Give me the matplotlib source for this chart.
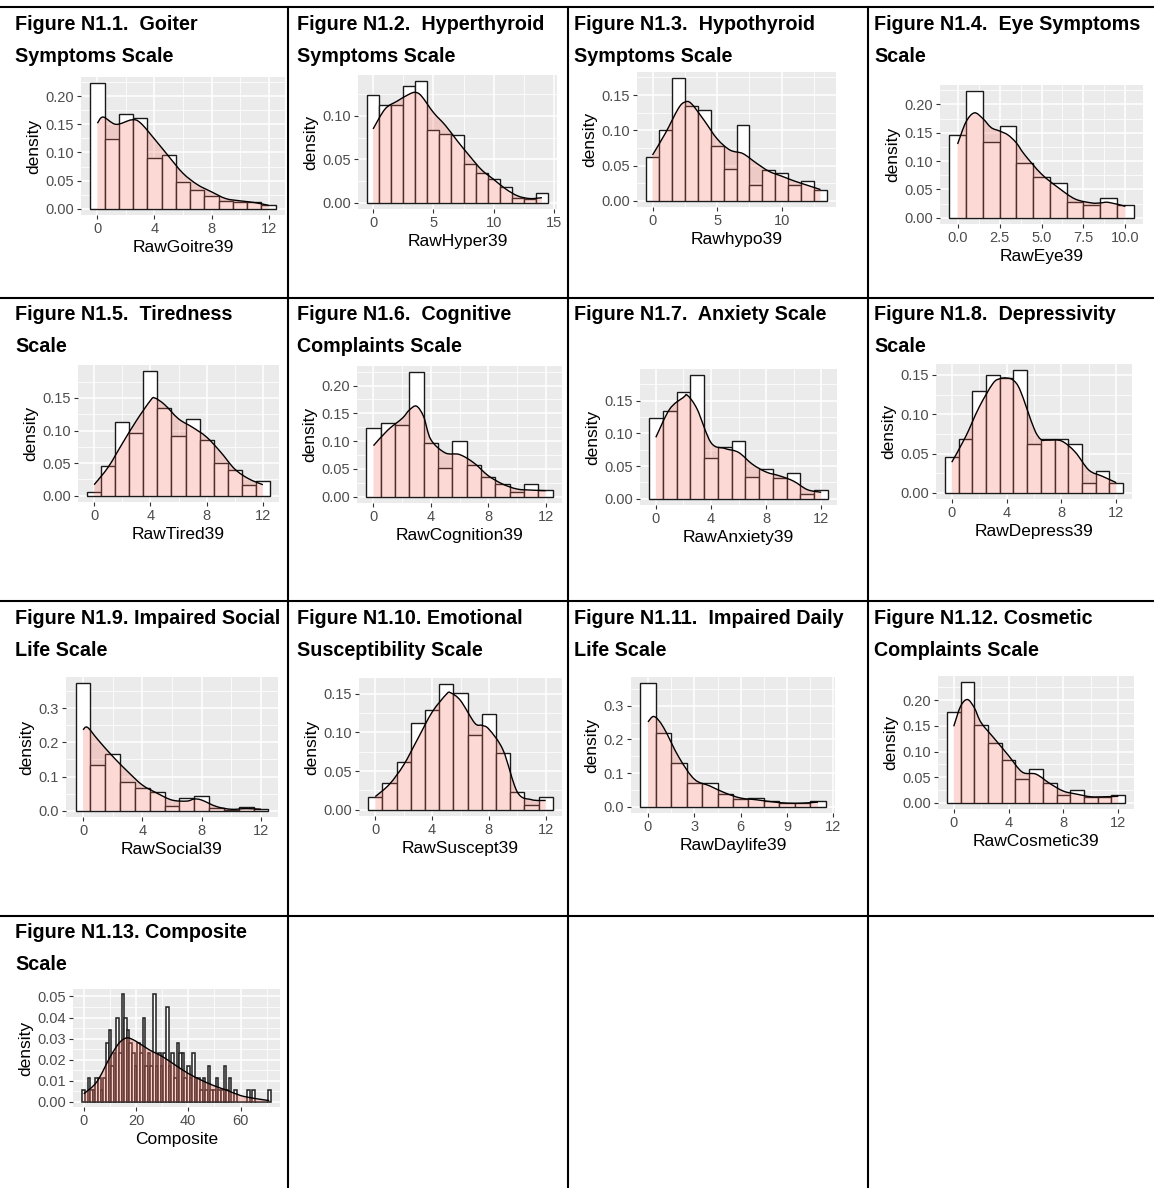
import numpy as np
import matplotlib
matplotlib.use("Agg")
import matplotlib.pyplot as plt
from matplotlib.path import Path
from matplotlib.patches import PathPatch
from matplotlib.lines import Line2D
from matplotlib import font_manager

W, H = 1154, 1188  # output size in pixels

# ---------------- values ----------------
# bar heights (density) for bins centred on 0, 1, 2, ...
goiter_bars = [0.223, 0.124, 0.168, 0.162, 0.091, 0.095, 0.047, 0.034, 0.022, 0.013, 0.012, 0.012, 0.006]
goiter_dx = [0, 0.4, 1.3, 2.4, 3, 4, 5, 6, 7, 8, 9, 10, 11, 12]
goiter_dy = [0.152, 0.163, 0.150, 0.158, 0.153, 0.124, 0.093, 0.063, 0.043, 0.030, 0.018, 0.014, 0.011, 0.006]

hyper_bars = [0.124, 0.112, 0.112, 0.134, 0.140, 0.084, 0.079, 0.078, 0.045, 0.034, 0.028, 0.018, 0.006, 0.005, 0.011]
hyper_dx = [0, 1, 2, 3, 3.5, 4, 5, 6, 7, 8, 9, 10, 11, 12, 13, 14]
hyper_dy = [0.085, 0.108, 0.117, 0.125, 0.127, 0.123, 0.104, 0.089, 0.071, 0.054, 0.038, 0.027, 0.016, 0.008, 0.005, 0.006]

hypo_bars = [0.062, 0.100, 0.174, 0.134, 0.129, 0.078, 0.045, 0.107, 0.023, 0.044, 0.040, 0.022, 0.028, 0.016]
hypo_dx = [0, 1, 2, 2.5, 3, 4, 5, 6, 7, 8, 9, 10, 11, 12, 13]
hypo_dy = [0.065, 0.096, 0.131, 0.140, 0.138, 0.114, 0.088, 0.072, 0.067, 0.054, 0.042, 0.035, 0.028, 0.022, 0.016]

eye_bars = [0.146, 0.223, 0.134, 0.162, 0.096, 0.072, 0.062, 0.027, 0.023, 0.034, 0.023]
eye_dx = [0, 0.5, 1, 1.5, 2, 2.5, 3, 3.5, 4, 5, 6, 7, 8, 8.5, 9, 10]
eye_dy = [0.130, 0.169, 0.185, 0.175, 0.159, 0.153, 0.146, 0.132, 0.111, 0.077, 0.053, 0.033, 0.026, 0.026, 0.027, 0.020]

tired_bars = [0.006, 0.045, 0.113, 0.096, 0.191, 0.135, 0.091, 0.118, 0.085, 0.050, 0.039, 0.017, 0.022]
tired_dx = [0, 1, 2, 3, 4, 4.3, 5, 6, 7, 8, 9, 10, 11, 12]
tired_dy = [0.017, 0.044, 0.080, 0.115, 0.146, 0.150, 0.140, 0.118, 0.105, 0.090, 0.067, 0.041, 0.026, 0.017]

cognition_bars = [0.123, 0.133, 0.129, 0.224, 0.096, 0.051, 0.100, 0.057, 0.035, 0.023, 0.009, 0.023, 0.012]
cognition_dx = [0, 1, 2, 2.5, 3, 3.5, 4, 5, 6, 7, 8, 9, 10, 11, 12]
cognition_dy = [0.092, 0.120, 0.141, 0.156, 0.163, 0.144, 0.103, 0.079, 0.076, 0.061, 0.038, 0.023, 0.014, 0.012, 0.011]

anxiety_bars = [0.124, 0.135, 0.163, 0.189, 0.062, 0.079, 0.089, 0.034, 0.045, 0.032, 0.040, 0.008, 0.013]
anxiety_dx = [0, 1, 2, 2.3, 3, 4, 5, 6, 7, 8, 9, 10, 11, 12]
anxiety_dy = [0.094, 0.137, 0.155, 0.158, 0.137, 0.086, 0.077, 0.071, 0.053, 0.041, 0.035, 0.027, 0.014, 0.010]

depress_bars = [0.045, 0.068, 0.129, 0.150, 0.146, 0.156, 0.062, 0.068, 0.068, 0.062, 0.013, 0.028, 0.012]
depress_dx = [0, 1, 2, 3, 3.5, 4, 4.5, 5, 6, 6.5, 7, 8, 9, 10, 11, 12]
depress_dy = [0.039, 0.071, 0.109, 0.139, 0.145, 0.146, 0.143, 0.130, 0.082, 0.068, 0.067, 0.066, 0.052, 0.029, 0.021, 0.013]

social_bars = [0.373, 0.134, 0.167, 0.084, 0.066, 0.056, 0.014, 0.038, 0.044, 0.008, 0.002, 0.010, 0.006]
social_dx = [0, 0.3, 1, 2, 3, 4, 5, 6, 7, 7.5, 8, 9, 10, 11, 12]
social_dy = [0.237, 0.244, 0.208, 0.159, 0.115, 0.075, 0.051, 0.031, 0.028, 0.034, 0.031, 0.012, 0.004, 0.006, 0.004]

suscept_bars = [0.017, 0.034, 0.062, 0.112, 0.129, 0.162, 0.151, 0.096, 0.123, 0.073, 0.023, 0.006, 0.017]
suscept_dx = [0, 1, 2, 3, 4, 5, 5.3, 6, 7, 7.5, 8, 9, 10, 11, 12]
suscept_dy = [0.017, 0.033, 0.058, 0.092, 0.126, 0.149, 0.151, 0.141, 0.112, 0.109, 0.104, 0.077, 0.023, 0.013, 0.012]

daylife_bars = [0.367, 0.219, 0.130, 0.070, 0.072, 0.038, 0.023, 0.026, 0.016, 0.011, 0.011, 0.017]
daylife_dx = [0, 0.4, 1, 2, 3, 4, 5, 6, 7, 8, 9, 10, 11]
daylife_dy = [0.252, 0.268, 0.236, 0.147, 0.082, 0.062, 0.041, 0.026, 0.021, 0.015, 0.011, 0.011, 0.014]

cosmetic_bars = [0.177, 0.235, 0.151, 0.117, 0.083, 0.046, 0.066, 0.038, 0.016, 0.026, 0.012, 0.012, 0.016]
cosmetic_dx = [0, 0.5, 1, 1.5, 2, 3, 4, 5, 6, 7, 8, 9, 10, 11, 12]
cosmetic_dy = [0.149, 0.188, 0.201, 0.185, 0.156, 0.124, 0.092, 0.060, 0.056, 0.038, 0.023, 0.017, 0.012, 0.012, 0.013]

composite_bars = [0.0056, 0.0, 0.011, 0.0056, 0.0056, 0.011, 0.011, 0.0056, 0.011, 0.028,
                  0.034, 0.017, 0.023, 0.040, 0.023, 0.051, 0.040, 0.034, 0.028, 0.023,
                  0.017, 0.028, 0.023, 0.040, 0.017, 0.023, 0.017, 0.051, 0.017, 0.023,
                  0.017, 0.023, 0.045, 0.017, 0.023, 0.011, 0.028, 0.023, 0.023, 0.011,
                  0.017, 0.011, 0.023, 0.011, 0.011, 0.0056, 0.011, 0.0056, 0.017, 0.0056,
                  0.0056, 0.011, 0.0056, 0.0056, 0.017, 0.0056, 0.011, 0.0, 0.0056, 0.0,
                  0.0, 0.0, 0.0, 0.0056, 0.0, 0.0056, 0.0, 0.0, 0.0, 0.0,
                  0.0, 0.0056]
composite_dx = [0, 5, 10, 13, 15, 17, 20, 25, 30, 35, 40, 45, 50, 55, 60, 65, 71]
composite_dy = [0.0037, 0.0094, 0.021, 0.027, 0.0295, 0.0303, 0.0287, 0.0247, 0.0215, 0.0174,
                0.0134, 0.0102, 0.0075, 0.0053, 0.0029, 0.0016, 0.0005]

titles = [
    ["Figure N1.1.  Goiter", "Symptoms Scale"],
    ["Figure N1.2.  Hyperthyroid", "Symptoms Scale"],
    ["Figure N1.3.  Hypothyroid", "Symptoms Scale"],
    ["Figure N1.4.  Eye Symptoms", "Scale"],
    ["Figure N1.5.  Tiredness", "Scale"],
    ["Figure N1.6.  Cognitive", "Complaints Scale"],
    ["Figure N1.7.  Anxiety Scale"],
    ["Figure N1.8.  Depressivity", "Scale"],
    ["Figure N1.9. Impaired Social", "Life Scale"],
    ["Figure N1.10. Emotional", "Susceptibility Scale"],
    ["Figure N1.11.  Impaired Daily", "Life Scale"],
    ["Figure N1.12. Cosmetic", "Complaints Scale"],
    ["Figure N1.13. Composite", "Scale"],
]
xlabels = ["RawGoitre39", "RawHyper39", "Rawhypo39", "RawEye39",
           "RawTired39", "RawCognition39", "RawAnxiety39", "RawDepress39",
           "RawSocial39", "RawSuscept39", "RawDaylife39", "RawCosmetic39",
           "Composite"]
bars_all = [goiter_bars, hyper_bars, hypo_bars, eye_bars, tired_bars, cognition_bars,
            anxiety_bars, depress_bars, social_bars, suscept_bars, daylife_bars,
            cosmetic_bars, composite_bars]
dens_x_all = [goiter_dx, hyper_dx, hypo_dx, eye_dx, tired_dx, cognition_dx, anxiety_dx,
              depress_dx, social_dx, suscept_dx, daylife_dx, cosmetic_dx, composite_dx]
dens_y_all = [goiter_dy, hyper_dy, hypo_dy, eye_dy, tired_dy, cognition_dy, anxiety_dy,
              depress_dy, social_dy, suscept_dy, daylife_dy, cosmetic_dy, composite_dy]
x_ticks = [[0, 4, 8, 12], [0, 5, 10, 15], [0, 5, 10], [0, 2.5, 5, 7.5, 10],
           [0, 4, 8, 12], [0, 4, 8, 12], [0, 4, 8, 12], [0, 4, 8, 12],
           [0, 4, 8, 12], [0, 4, 8, 12], [0, 3, 6, 9, 12], [0, 4, 8, 12],
           [0, 20, 40, 60]]
x_fmt = ["{:.0f}"] * 3 + ["{:.1f}"] + ["{:.0f}"] * 9
y_ticks = [[0, 0.05, 0.10, 0.15, 0.20], [0, 0.05, 0.10], [0, 0.05, 0.10, 0.15],
           [0, 0.05, 0.10, 0.15, 0.20], [0, 0.05, 0.10, 0.15], [0, 0.05, 0.10, 0.15, 0.20],
           [0, 0.05, 0.10, 0.15], [0, 0.05, 0.10, 0.15], [0, 0.1, 0.2, 0.3],
           [0, 0.05, 0.10, 0.15], [0, 0.1, 0.2, 0.3], [0, 0.05, 0.10, 0.15, 0.20],
           [0, 0.01, 0.02, 0.03, 0.04, 0.05]]
y_fmt = ["{:.2f}"] * 8 + ["{:.1f}", "{:.2f}", "{:.1f}", "{:.2f}", "{:.2f}"]

# ---------------- layout (pixels of the page) ----------------
# grey panel boxes: left, top, right, bottom
boxes = [(81, 77, 285, 215), (358, 75, 557, 209), (637, 72, 836, 207), (940, 85, 1143, 224),
         (78, 365, 279, 502), (357, 366, 562, 503), (640, 369, 837, 505), (936, 364, 1132, 499),
         (66, 677, 278, 817), (359, 678, 562, 816), (631, 677, 835, 813), (938, 676, 1134, 809),
         (73, 989, 280, 1107)]
col_text_x = [15, 297, 574, 874]
row_top = [7, 298, 601, 916]
col_lines = [287.5, 567.5, 867.5]

plt.rcParams["font.family"] = "Liberation Sans"
names = {f.name for f in font_manager.fontManager.ttflist}
if "Liberation Sans Narrow" in names:
    title_font, title_size = "Liberation Sans Narrow", 16.5
else:
    title_font, title_size = "Liberation Sans", 14.2


def smooth(xs, ys):
    # Catmull-Rom through the read points, drawn as cubic Bezier segments
    pts = np.column_stack([xs, ys]).astype(float)
    n = len(pts)
    verts = [pts[0]]
    codes = [Path.MOVETO]
    for i in range(n - 1):
        p0 = pts[max(i - 1, 0)]
        p1 = pts[i]
        p2 = pts[i + 1]
        p3 = pts[min(i + 2, n - 1)]
        verts += [p1 + (p2 - p0) / 6, p2 - (p3 - p1) / 6, p2]
        codes += [Path.CURVE4] * 3
    return verts, codes


def minor_between(major, lo, hi):
    step = major[1] - major[0]
    ext = [major[0] - step] + list(major) + [major[-1] + step]
    mids = [(a + b) / 2 for a, b in zip(ext[:-1], ext[1:])]
    return [m for m in mids if lo <= m <= hi]


fig = plt.figure(figsize=(W / 100, H / 100), dpi=100)

for i in range(len(bars_all)):
    l, t, r, b = boxes[i]
    ax = fig.add_axes([l / W, 1 - b / H, (r - l) / W, (b - t) / H])
    ax.set_facecolor("#EBEBEB")
    bars = np.asarray(bars_all[i])
    centers = np.arange(len(bars))
    many = len(bars) > 30
    lw = 1.15 if many else 1.0
    edge = "#262626" if many else "#1a1a1a"
    ax.bar(centers, bars, width=1.0, color="white", edgecolor=edge, linewidth=lw, zorder=2)

    dx, dy = dens_x_all[i], dens_y_all[i]
    verts, codes = smooth(dx, dy)
    fill_verts = verts + [(dx[-1], 0), (dx[0], 0), (dx[0], dy[0])]
    fill_codes = codes + [Path.LINETO, Path.LINETO, Path.CLOSEPOLY]
    ax.add_patch(PathPatch(Path(fill_verts, fill_codes), facecolor="#F96A5A",
                           alpha=0.3 if many else 0.25, edgecolor="none", zorder=3))
    ax.add_patch(PathPatch(Path(verts, codes), facecolor="none", edgecolor="black",
                           linewidth=1.0, zorder=4))

    # ggplot style 5% expansion
    span = len(bars)
    xlo, xhi = -0.5 - 0.05 * span, len(bars) - 0.5 + 0.05 * span
    ymax = max(bars.max(), max(dy))
    ylo, yhi = -0.05 * ymax, 1.05 * ymax
    ax.set_xlim(xlo, xhi)
    ax.set_ylim(ylo, yhi)

    xt, yt = x_ticks[i], y_ticks[i]
    ax.set_xticks(xt)
    ax.set_xticklabels([x_fmt[i].format(v) for v in xt])
    ax.set_yticks(yt)
    ax.set_yticklabels([y_fmt[i].format(v) for v in yt])
    ax.set_xticks(minor_between(xt, xlo, xhi), minor=True)
    ax.set_yticks(minor_between(yt, ylo, yhi), minor=True)
    ax.grid(which="major", color="white", linewidth=1.1)
    ax.grid(which="minor", color="white", linewidth=0.55)
    ax.set_axisbelow(True)
    for s in ax.spines.values():
        s.set_visible(False)
    ax.tick_params(which="major", length=3.2, width=0.8, color="#333333",
                   labelcolor="#4D4D4D", labelsize=10.5, pad=2)
    ax.tick_params(which="minor", length=0)
    ax.set_xlabel(xlabels[i], fontsize=12.5, labelpad=3)
    ax.set_ylabel("density", fontsize=12.5, labelpad=3)

    # caption above the panel
    row, col = divmod(i, 4)
    for k, line in enumerate(titles[i]):
        y = row_top[row] + 22.5 + 32 * k
        fig.text(col_text_x[col] / W, 1 - y / H, line, fontsize=title_size,
                 fontweight="bold", family=title_font, va="baseline", ha="left")

# table rules
for y in row_top:
    fig.add_artist(Line2D([0, 1], [1 - y / H] * 2, transform=fig.transFigure,
                          color="black", linewidth=1.5))
for x in col_lines:
    fig.add_artist(Line2D([x / W] * 2, [1 - row_top[0] / H, 0], transform=fig.transFigure,
                          color="black", linewidth=1.5))

fig.savefig("out.png", dpi=100, facecolor="white")
